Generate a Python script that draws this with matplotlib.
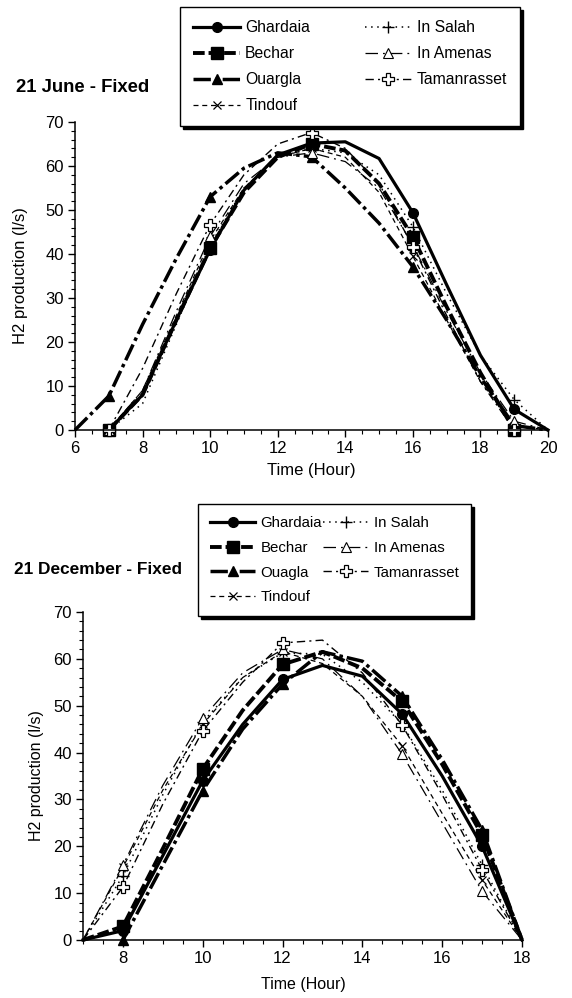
import numpy as np
import matplotlib
matplotlib.use("Agg")
import matplotlib.pyplot as plt
from matplotlib.ticker import MultipleLocator

nan = np.nan

# ---------------- data: 21 June (fixed) ----------------
june_hours = [6, 7, 8, 9, 10, 11, 12, 13, 14, 15, 16, 17, 18, 19, 20]
june_ghardaia = [nan, 0, 8, 25, 41, 54.5, 62.5, 65.2, 65.5, 61.7, 49.4, 33, 17, 4.7, 0]
june_bechar = [nan, 0, 8, 25, 41.3, 54, 62, 65, 63.5, 56, 43.9, 28, 13, 0, nan]
june_ouargla = [0, 7.7, 24, 39, 53, 59.5, 63, 62.1, 55, 47, 37.1, 25, 12, 1, 0]
june_tindouf = [nan, 0, 9, 26, 43, 55, 62, 64, 62, 54, 39.5, 25, 11, 1, 0]
june_insalah = [nan, 0, 6, 24, 42, 55, 62, 64, 63, 58, 46.2, 31, 17, 6.9, 0]
june_inamenas = [nan, 0, 9, 27, 44, 56, 62, 63, 61, 55, 42, 27, 13, 2, 0]
june_tamanrasset = [nan, 0, 14, 31, 46.7, 58, 65, 67.6, 64, 56, 41.7, 26, 11, 0, nan]

# ---------------- data: 21 December (fixed) ----------------
dec_hours = [7, 8, 9, 10, 11, 12, 13, 14, 15, 16, 17, 18]
dec_ghardaia = [0, 2, 18, 34, 46, 55.6, 58.6, 56.3, 48.2, 35, 20, 0]
dec_bechar = [0, 2.9, 19.5, 36.5, 49, 58.8, 61.5, 58, 50.9, 37.5, 22.4, 0]
dec_ouagla = [nan, 0, 16, 31.9, 45, 54.6, 61.5, 59.5, 52, 38.5, 23.5, 0]
dec_tindouf = [0, 15.5, 32, 46, 56, 61.5, 59, 52, 41.4, 27, 12.8, 0]
dec_insalah = [0, 13.7, 31, 46.5, 56, 61.3, 61, 55, 46, 32, 16, 0]
dec_inamenas = [0, 16, 33, 47.4, 57, 62, 60, 52, 39.6, 25, 10.4, 0]
dec_tamanrasset = [0, 11.3, 29, 44.6, 55, 63.4, 64, 57, 45.8, 31, 15, 0]

june_names = ["Ghardaia", "Bechar", "Ouargla", "Tindouf", "In Salah", "In Amenas", "Tamanrasset"]
dec_names = ["Ghardaia", "Bechar", "Ouagla", "Tindouf", "In Salah", "In Amenas", "Tamanrasset"]

styles = [
    dict(ls="-", lw=2.3, marker="o", ms=7, mfc="k", mec="k"),
    dict(ls=(0, (3, 1)), lw=2.8, marker="s", ms=8, mfc="k", mec="k"),
    dict(ls=(0, (5, 1.2, 1, 1.2)), lw=2.5, marker="^", ms=7.5, mfc="k", mec="k"),
    dict(ls=(0, (4, 3)), lw=0.9, marker="x", ms=6, mfc="k", mec="k", mew=0.9),
    dict(ls=(0, (1, 3)), lw=1.1, marker="+", ms=8, mfc="k", mec="k", mew=1.0),
    dict(ls=(0, (10, 4, 1.5, 4)), lw=0.9, marker="^", ms=6.5, mfc="white", mec="k", mew=0.8),
    dict(ls=(0, (6, 3, 1.5, 3)), lw=1.0, marker="P", ms=8, mfc="white", mec="k", mew=0.9),
]

W, H = 572, 998
fig = plt.figure(figsize=(W / 100, H / 100), dpi=100)

def px_axes(l, r, t, b):
    return fig.add_axes([l / W, 1 - b / H, (r - l) / W, (b - t) / H])

FONT = ["Liberation Sans", "DejaVu Sans"]

def style(ax, xmin, xmax):
    ax.set_xlim(xmin, xmax)
    ax.set_ylim(0, 70)
    for s in ("top", "right"):
        ax.spines[s].set_visible(False)
    for s in ("left", "bottom"):
        ax.spines[s].set_linewidth(1.1)
    ax.xaxis.set_major_locator(MultipleLocator(2))
    ax.xaxis.set_minor_locator(MultipleLocator(0.5))
    ax.yaxis.set_major_locator(MultipleLocator(10))
    ax.yaxis.set_minor_locator(MultipleLocator(2))
    ax.tick_params(which="major", direction="out", length=5, width=1.0, labelsize=12, pad=3)
    ax.tick_params(which="minor", direction="out", length=3, width=0.8)
    for lab in ax.get_xticklabels() + ax.get_yticklabels():
        lab.set_family(FONT)

def draw(ax, hours, series, names, mark_idx):
    handles = []
    for vals, nm, st in zip(series, names, styles):
        h, = ax.plot(hours, vals, color="k", markevery=mark_idx, label=nm, clip_on=False, **st)
        handles.append(h)
    return handles

# ---- top panel ----
ax1 = px_axes(75, 548, 122, 430)
h1 = draw(ax1, june_hours,
          [june_ghardaia, june_bechar, june_ouargla, june_tindouf,
           june_insalah, june_inamenas, june_tamanrasset],
          june_names, [1, 4, 7, 10, 13])
style(ax1, 6, 20)
fig.text(311 / W, 1 - 470 / H, "Time (Hour)", ha="center", va="center", fontsize=12, family=FONT)
fig.text(21 / W, 1 - 276 / H, "H2 production (l/s)", ha="center", va="center",
         rotation=90, fontsize=12, family=FONT)
fig.text(16 / W, 1 - 87 / H, "21 June - Fixed", ha="left", va="center",
         fontsize=13.3, fontweight="bold", family=FONT)
leg1 = fig.legend(handles=h1, ncol=2, loc="upper left", bbox_to_anchor=(180 / W, 1 - 7 / H),
                  borderaxespad=0, numpoints=1, fancybox=False, edgecolor="k", framealpha=1,
                  shadow={"color": "k", "alpha": 1}, handlelength=3.0, handletextpad=0.32,
                  columnspacing=3.5, labelspacing=0.71, borderpad=0.83,
                  prop={"family": FONT, "size": 11.3})
leg1.get_frame().set_linewidth(1.0)

# ---- bottom panel ----
ax2 = px_axes(83, 522, 612, 940)
h2 = draw(ax2, dec_hours,
          [dec_ghardaia, dec_bechar, dec_ouagla, dec_tindouf,
           dec_insalah, dec_inamenas, dec_tamanrasset],
          dec_names, [1, 3, 5, 8, 10])
style(ax2, 7, 18)
fig.text(303 / W, 1 - 985 / H, "Time (Hour)", ha="center", va="center", fontsize=11.5, family=FONT)
fig.text(37 / W, 1 - 776 / H, "H2 production (l/s)", ha="center", va="center",
         rotation=90, fontsize=11.5, family=FONT)
fig.text(14 / W, 1 - 570 / H, "21 December - Fixed", ha="left", va="center",
         fontsize=12.4, fontweight="bold", family=FONT)
leg2 = fig.legend(handles=h2, ncol=2, loc="upper left", bbox_to_anchor=(198 / W, 1 - 504 / H),
                  borderaxespad=0, numpoints=1, fancybox=False, edgecolor="k", framealpha=1,
                  shadow={"color": "k", "alpha": 1}, handlelength=3.0, handletextpad=0.35,
                  columnspacing=0.1, labelspacing=0.72, borderpad=0.8,
                  prop={"family": FONT, "size": 10.8})
leg2.get_frame().set_linewidth(1.0)

fig.savefig("out.png", dpi=100)
